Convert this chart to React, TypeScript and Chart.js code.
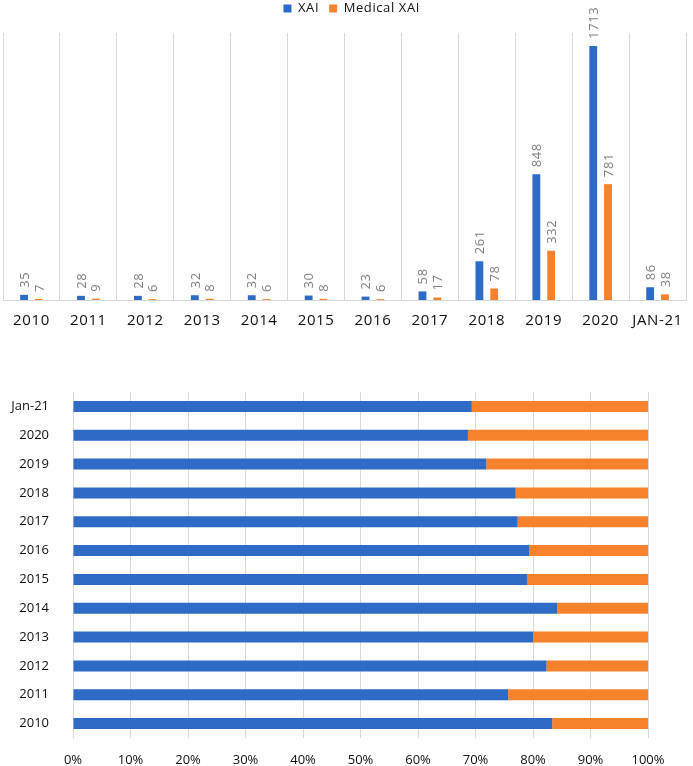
import { useEffect, useRef } from 'react'
import { Chart, registerables } from 'chart.js'

Chart.register(...registerables)

const years = ['2010', '2011', '2012', '2013', '2014', '2015', '2016', '2017', '2018', '2019', '2020', 'Jan-21']
const xaiCounts = [35, 28, 28, 32, 32, 30, 23, 58, 261, 848, 1713, 86]
const medicalCounts = [7, 9, 6, 8, 6, 8, 6, 17, 78, 332, 781, 38]
const percentTicks = [0, 10, 20, 30, 40, 50, 60, 70, 80, 90, 100]

const BLUE = '#2e6bc6'
const ORANGE = '#f6822b'
const GRID = '#d9d9d9'
const FONT = "'Open Sans', sans-serif"

// shares for the 100% stacked chart, derived from the counts
const xaiShare = xaiCounts.map((v, i) => (v / (v + medicalCounts[i])) * 100)
const medicalShare = xaiShare.map((v) => 100 - v)

// rotated value labels above each bar
const barLabels = {
  id: 'barLabels',
  beforeDraw(chart: Chart) {
    ;(chart.ctx as any).letterSpacing = '0.6px'
  },
  afterDatasetsDraw(chart: Chart) {
    const { ctx } = chart
    ctx.save()
    ctx.fillStyle = '#7f7f7f'
    ctx.font = `13px ${FONT}`
    ctx.textAlign = 'left'
    ctx.textBaseline = 'middle'
    chart.data.datasets.forEach((ds, di) => {
      const meta = chart.getDatasetMeta(di)
      meta.data.forEach((bar: any, i) => {
        ctx.save()
        ctx.translate(bar.x + 1, bar.y - 7)
        ctx.rotate(-Math.PI / 2)
        ctx.fillText(String(ds.data[i]), 0, 0)
        ctx.restore()
      })
    })
    ctx.restore()
  },
}

// keep the legend band at a fixed height above the plot
const legendBand = {
  id: 'legendBand',
  beforeLayout(chart: any) {
    const lg = chart.legend
    if (lg && !lg._banded) {
      const fit = lg.fit.bind(lg)
      lg.fit = function () {
        fit()
        this.height = 41
      }
      lg._banded = true
    }
  },
}

function CountsChart() {
  const canvasRef = useRef<HTMLCanvasElement>(null)

  useEffect(() => {
    const canvas = canvasRef.current
    if (!canvas) return
    const chart = new Chart(canvas, {
      type: 'bar',
      data: {
        labels: years,
        datasets: [
          { label: 'XAI', data: xaiCounts, backgroundColor: BLUE, categoryPercentage: 0.52, barPercentage: 0.53 },
          { label: 'Medical XAI', data: medicalCounts, backgroundColor: ORANGE, categoryPercentage: 0.52, barPercentage: 0.53 },
        ],
      },
      options: {
        responsive: false,
        animation: false,
        layout: { padding: { left: 3, right: 1, top: -8, bottom: 0 } },
        scales: {
          x: {
            grid: { color: GRID, drawTicks: false },
            border: { color: GRID },
            ticks: {
              color: '#111',
              font: { family: FONT, size: 15 },
              padding: 12,
              maxRotation: 0,
              autoSkip: false,
              callback: (_v, i) => years[i].toUpperCase(),
            },
            afterFit: (scale) => {
              scale.height = 40
            },
          },
          y: { display: false, min: 0, max: 1800 },
        },
        plugins: {
          legend: {
            position: 'top',
            labels: {
              boxWidth: 8,
              boxHeight: 8,
              padding: 10,
              color: '#111',
              font: { family: FONT, size: 13 },
            },
          },
          tooltip: { enabled: false },
        },
      },
      plugins: [barLabels, legendBand],
    })
    return () => chart.destroy()
  }, [])

  return <canvas ref={canvasRef} width={693} height={340} style={{ display: 'block' }} />
}

function ShareChart() {
  const canvasRef = useRef<HTMLCanvasElement>(null)

  useEffect(() => {
    const canvas = canvasRef.current
    if (!canvas) return
    const chart = new Chart(canvas, {
      type: 'bar',
      data: {
        labels: years,
        datasets: [
          { label: 'XAI', data: xaiShare, backgroundColor: BLUE, barPercentage: 0.38, categoryPercentage: 1 },
          { label: 'Medical XAI', data: medicalShare, backgroundColor: ORANGE, barPercentage: 0.38, categoryPercentage: 1 },
        ],
      },
      options: {
        indexAxis: 'y',
        responsive: false,
        animation: false,
        layout: { padding: { left: 0, right: 45, top: 52, bottom: 0 } },
        scales: {
          x: {
            stacked: true,
            min: 0,
            max: 100,
            afterBuildTicks: (scale) => {
              scale.ticks = percentTicks.map((v) => ({ value: v }))
            },
            grid: { color: GRID, drawTicks: false },
            border: { display: false },
            ticks: {
              color: '#111',
              font: { family: FONT, size: 13 },
              padding: 14,
              callback: (v) => `${v}%`,
            },
            afterFit: (scale) => {
              scale.height = 28
            },
          },
          y: {
            stacked: true,
            reverse: true,
            grid: { display: false },
            border: { display: false },
            ticks: {
              color: '#111',
              font: { family: FONT, size: 13 },
              padding: 16,
              autoSkip: false,
            },
            afterFit: (scale) => {
              scale.width = 73
            },
          },
        },
        plugins: {
          legend: { display: false },
          tooltip: { enabled: false },
        },
      },
    })
    return () => chart.destroy()
  }, [])

  return <canvas ref={canvasRef} width={693} height={426} style={{ display: 'block' }} />
}

export default function App() {
  return (
    <div style={{ position: 'absolute', left: 0, top: 0, width: 693, height: 766, background: '#fff' }}>
      <CountsChart />
      <ShareChart />
    </div>
  )
}
